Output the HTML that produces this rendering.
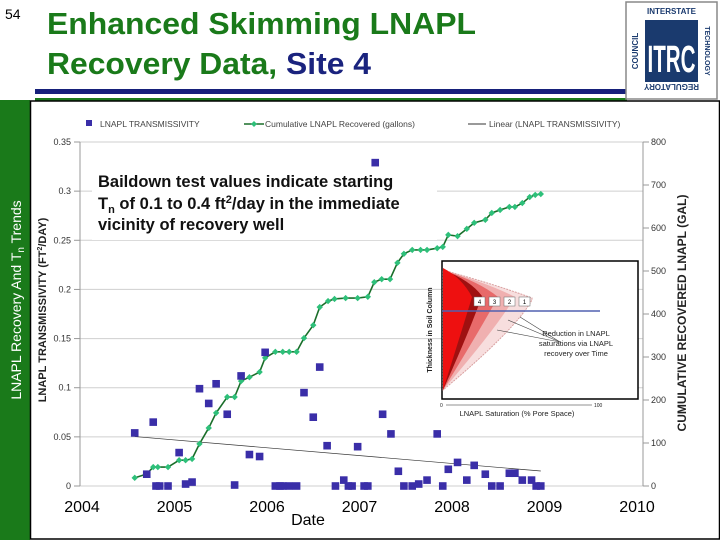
<!DOCTYPE html>
<html><head><meta charset="utf-8"><style>
body{margin:0;background:#fff;}
#wrap{position:relative;width:720px;height:540px;overflow:hidden;background:#fff;font-family:"Liberation Sans",sans-serif;}
</style></head><body>
<div id="wrap">
<svg id="svg" width="720" height="540" viewBox="0 0 720 540" xmlns="http://www.w3.org/2000/svg" font-family="Liberation Sans, sans-serif">
  <text x="5" y="19" font-size="14" fill="#000">54</text>
  <text x="47" y="34" font-size="31" font-weight="bold" fill="#1a7a1a" textLength="429" lengthAdjust="spacingAndGlyphs">Enhanced Skimming LNAPL</text>
  <text x="47" y="74" font-size="31" font-weight="bold" fill="#1a7a1a" textLength="324" lengthAdjust="spacingAndGlyphs">Recovery Data, <tspan fill="#1a237e">Site 4</tspan></text>
  <rect x="35" y="89" width="592" height="5" fill="#16207a"/>
  <rect x="35" y="98" width="592" height="2.5" fill="#1a7a1a"/>
  <g>
    <rect x="626" y="2" width="91" height="97" fill="#fff" stroke="#888" stroke-width="1.5"/>
    <rect x="645" y="20" width="53" height="62" fill="#1a3a6e"/>
    <text x="671.5" y="72" font-size="38" font-weight="bold" fill="#fff" text-anchor="middle" textLength="48" lengthAdjust="spacingAndGlyphs">ITRC</text>
    <text x="671.5" y="14" font-size="8" font-weight="bold" fill="#1a3a6e" text-anchor="middle">INTERSTATE</text>
    <text x="671.5" y="90" font-size="8" font-weight="bold" fill="#1a3a6e" text-anchor="middle" transform="rotate(180 671.5 87)">REGULATORY</text>
    <text x="638" y="51" font-size="8" font-weight="bold" fill="#1a3a6e" text-anchor="middle" transform="rotate(-90 638 51)">COUNCIL</text>
    <text x="705" y="51" font-size="7" font-weight="bold" fill="#1a3a6e" text-anchor="middle" transform="rotate(90 705 51)">TECHNOLOGY</text>
  </g>
  <rect x="0" y="100" width="30" height="440" fill="#1a7a1a"/>
  <text x="0" y="0" font-size="14" fill="#fff" text-anchor="middle" transform="translate(21 300) rotate(-90)">LNAPL Recovery And T<tspan font-size="10" dy="3">n</tspan><tspan dy="-3"> Trends</tspan></text>
  <rect x="30.5" y="101" width="689" height="438" fill="none" stroke="#000" stroke-width="1.5"/>
  <g id="chart"></g>
</svg>
</div>
<script>
const tDates=[2004.57,2004.70,2004.77,2004.80,2004.84,2004.93,2005.05,2005.12,2005.19,2005.27,2005.37,2005.45,2005.57,2005.65,2005.72,2005.81,2005.92,2005.98,2006.09,2006.14,2006.17,2006.24,2006.32,2006.40,2006.50,2006.57,2006.65,2006.74,2006.83,2006.88,2006.92,2006.98,2007.05,2007.09,2007.25,2007.34,2007.42,2007.48,2007.57,2007.64,2007.73,2007.84,2007.90,2007.96,2008.06,2008.16,2008.24,2008.36,2008.43,2008.52,2008.62,2008.68,2008.76,2008.86,2008.91,2008.96,2007.17];
const tValues=[0.054,0.012,0.065,0,0,0,0.034,0.002,0.004,0.099,0.084,0.104,0.073,0.001,0.112,0.032,0.030,0.136,0,0,0,0,0,0.095,0.070,0.121,0.041,0,0.006,0,0,0.040,0,0,0.073,0.053,0.015,0,0,0.002,0.006,0.053,0,0.017,0.024,0.006,0.021,0.012,0,0,0.013,0.013,0.006,0.006,0,0,0.329];
const cDates=[2004.57,2004.70,2004.77,2004.82,2004.93,2005.05,2005.12,2005.19,2005.27,2005.37,2005.45,2005.57,2005.65,2005.72,2005.81,2005.92,2005.98,2006.09,2006.17,2006.24,2006.32,2006.40,2006.50,2006.57,2006.66,2006.73,2006.85,2006.98,2007.09,2007.16,2007.24,2007.33,2007.41,2007.48,2007.57,2007.66,2007.73,2007.84,2007.90,2007.96,2008.06,2008.16,2008.24,2008.36,2008.43,2008.52,2008.62,2008.68,2008.76,2008.84,2008.90,2008.96];
const cValues=[19,28,44,44,44,60,60,63,98,135,170,207,207,244,253,265,298,312,312,312,312,344,374,416,430,435,437,437,440,474,481,481,519,540,549,549,549,553,556,584,581,598,612,619,635,642,649,649,658,672,677,679];
const yLeftTicks=["0","0.05","0.1","0.15","0.2","0.25","0.3","0.35"];
const yRightTicks=["0","100","200","300","400","500","600","700","800"];
const xYears=[2004,2005,2006,2007,2008,2009,2010];

const NS="http://www.w3.org/2000/svg";
const g=document.getElementById('chart');
function el(t,a,p){const e=document.createElementNS(NS,t);for(const k in a)e.setAttribute(k,a[k]);(p||g).appendChild(e);return e;}
const X0=80,X1=643,Y0=486,Y1=142;
const xs=d=>82+(d-2004)*92.5;
const yl=v=>Y0-(v/0.35)*(Y0-Y1);
const yr=v=>Y0-(v/800)*(Y0-Y1);

yLeftTicks.forEach(t=>{const v=parseFloat(t);const y=yl(v);
  const l=el('line',{x1:X0,x2:X1,y1:y,y2:y,stroke:'#cfcfcf','stroke-width':1});
  
  const tk=el('line',{x1:X0-6,x2:X0,y1:y,y2:y,stroke:'#999'});
  
  const tx=el('text',{x:X0-9,y:y+3,'font-size':9,fill:'#333','text-anchor':'end'});tx.textContent=t;
  
});
yRightTicks.forEach(t=>{const y=yr(parseFloat(t));
  const tk=el('line',{x1:X1,x2:X1+6,y1:y,y2:y,stroke:'#999'});
  
  const tx=el('text',{x:X1+8,y:y+3,'font-size':9,fill:'#333'});tx.textContent=t;
  
});
let a=el('line',{x1:X0,x2:X0,y1:Y1,y2:Y0,stroke:'#999'});
a=el('line',{x1:X1,x2:X1,y1:Y1,y2:Y0,stroke:'#999'});
xYears.forEach(yv=>{const tx=el('text',{x:xs(yv),y:512,'font-size':16,fill:'#000','text-anchor':'middle'});tx.textContent=yv;
  });
let t=el('text',{x:308,y:525,'font-size':16,fill:'#000','text-anchor':'middle'});t.textContent='Date';

t=el('text',{x:0,y:0,'font-size':11,'font-weight':'bold',fill:'#222','text-anchor':'middle',transform:'translate(46 310) rotate(-90)'});
t.innerHTML='LNAPL TRANSMISSIVITY (FT<tspan font-size="7" dy="-4">2</tspan><tspan dy="4">/DAY)</tspan>';

t=el('text',{x:0,y:0,'font-size':12,'font-weight':'bold',fill:'#222','text-anchor':'middle',transform:'translate(686 313) rotate(-90)'});
t.textContent='CUMULATIVE RECOVERED LNAPL (GAL)';


let r=el('rect',{x:92,y:166,width:345,height:74,fill:'#fff'});
t=el('text',{x:98,y:187,'font-size':16.5,'font-weight':'bold',fill:'#111'});t.textContent='Baildown test values indicate starting';

t=el('text',{x:98,y:209,'font-size':16.5,'font-weight':'bold',fill:'#111'});
t.innerHTML='T<tspan font-size="11" dy="4">n</tspan><tspan dy="-4"> of 0.1 to 0.4 ft</tspan><tspan font-size="11" dy="-6">2</tspan><tspan dy="6">/day in the immediate</tspan>';

t=el('text',{x:98,y:230,'font-size':16.5,'font-weight':'bold',fill:'#111'});t.textContent='vicinity of recovery well';


const ins=el('g',{});
el('rect',{x:442,y:261,width:196,height:138,fill:'#fff',stroke:'#000','stroke-width':1.5},ins);
el('path',{d:'M443 390 L443 270 Q500 286 532 298 L532 300 Q515 330 443 390 Z',fill:'#f7dede',stroke:'#d9a0a0','stroke-dasharray':'2 1'},ins);
el('path',{d:'M443 390 L443 270 Q490 284 515 297 Q495 330 443 390 Z',fill:'#f0b0b0'},ins);
el('path',{d:'M443 390 L443 270 Q480 282 498 297 Q480 330 443 390 Z',fill:'#e86a6a'},ins);
el('path',{d:'M443 390 L443 270 Q470 280 482 296 Q470 330 443 390 Z',fill:'#a01010'},ins);
el('path',{d:'M443 390 L443 268 Q462 278 472 297 Q462 330 443 390 Z',fill:'#ee1010'},ins);
['4','3','2','1'].forEach((n,i)=>{const bx=474+i*15;el('rect',{x:bx,y:297,width:11,height:9,fill:'#fff',stroke:'#666','stroke-width':0.5},ins);
  const tn=el('text',{x:bx+5.5,y:304,'font-size':6,'text-anchor':'middle',fill:'#000'},ins);tn.textContent=n;});
el('line',{x1:442,x2:600,y1:311,y2:311,stroke:'#5060b0','stroke-width':1.5},ins);
el('line',{x1:497,x2:560,y1:330,y2:342,stroke:'#444','stroke-width':0.6},ins);
el('line',{x1:508,x2:560,y1:320,y2:342,stroke:'#444','stroke-width':0.6},ins);
el('line',{x1:520,x2:560,y1:317,y2:342,stroke:'#444','stroke-width':0.6},ins);
[['Reduction in LNAPL',336],['saturations via LNAPL',346],['recovery over Time',356]].forEach(([s,y])=>{const tt=el('text',{x:576,y:y,'font-size':7.5,'text-anchor':'middle',fill:'#222'},ins);tt.textContent=s;});
let tt=el('text',{x:0,y:0,'font-size':7,'font-weight':'bold',fill:'#222','text-anchor':'middle',transform:'translate(432 330) rotate(-90)'},ins);tt.textContent='Thickness in Soil Column';
tt=el('text',{x:440,y:407,'font-size':5,fill:'#222'},ins);tt.textContent='0';
el('line',{x1:446,x2:592,y1:405,y2:405,stroke:'#222','stroke-width':0.5},ins);
tt=el('text',{x:594,y:407,'font-size':5,fill:'#222'},ins);tt.textContent='100';
tt=el('text',{x:517,y:416,'font-size':7.5,'text-anchor':'middle',fill:'#222'},ins);tt.textContent='LNAPL Saturation (% Pore Space)';

const n=tDates.length;let sx=0,sy=0,sxx=0,sxy=0;
for(let i=0;i<n;i++){sx+=tDates[i];sy+=tValues[i];sxx+=tDates[i]*tDates[i];sxy+=tDates[i]*tValues[i];}
const slope=(n*sxy-sx*sy)/(n*sxx-sx*sx),icpt=(sy-slope*sx)/n;
const dmin=Math.min(...tDates),dmax=Math.max(...tDates);
const tl=el('line',{x1:xs(dmin),y1:yl(icpt+slope*dmin),x2:xs(dmax),y2:yl(icpt+slope*dmax),stroke:'#333','stroke-width':0.7});


const pts=cDates.map((d,i)=>xs(d)+','+yr(cValues[i])).join(' ');
const pl=el('polyline',{points:pts,fill:'none',stroke:'#1a6e2a','stroke-width':1.6});

cDates.forEach((d,i)=>{const x=xs(d),y=yr(cValues[i]);
  const m=el('path',{d:`M${x} ${y-3.2}L${x+3.2} ${y}L${x} ${y+3.2}L${x-3.2} ${y}Z`,fill:'#2ec07a'});
  });

tDates.forEach((d,i)=>{const x=xs(d),y=yl(tValues[i]);
  const s=el('rect',{x:x-3.8,y:y-3.8,width:7.6,height:7.6,fill:'#3a2ea8'});
  });

const lg=el('g',{});
let e=el('rect',{x:86,y:120,width:6,height:6,fill:'#3a2ea8'},lg);
e=el('text',{x:100,y:127,'font-size':8.5,fill:'#444'},lg);e.textContent='LNAPL TRANSMISSIVITY';
el('line',{x1:244,x2:264,y1:124,y2:124,stroke:'#1a6e2a','stroke-width':1.5},lg);
el('path',{d:'M254 121L257 124L254 127L251 124Z',fill:'#2ec07a'},lg);
e=el('text',{x:265,y:127,'font-size':8.5,fill:'#444'},lg);e.textContent='Cumulative LNAPL Recovered (gallons)';
el('line',{x1:468,x2:486,y1:124,y2:124,stroke:'#333','stroke-width':1},lg);
e=el('text',{x:489,y:127,'font-size':8.5,fill:'#444'},lg);e.textContent='Linear (LNAPL TRANSMISSIVITY)';
</script>
</body></html>
